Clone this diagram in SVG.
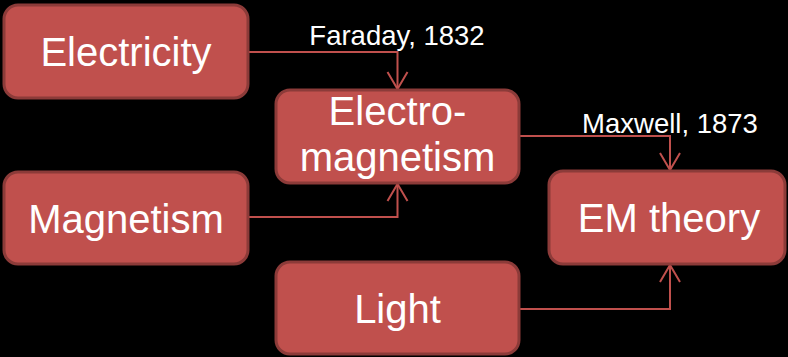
<svg xmlns="http://www.w3.org/2000/svg" width="788" height="357" viewBox="0 0 788 357">
<defs>
<style>
.box{fill:#c0504d;stroke:#8c3b39;stroke-width:3}
.t{font-family:"Liberation Sans",Arial,sans-serif;font-size:40px;fill:#ffffff;text-anchor:middle}
.lbl{font-family:"Liberation Sans",Arial,sans-serif;font-size:27.5px;fill:#ffffff;text-anchor:middle}
.c{fill:none;stroke:#c0504d;stroke-width:2}
</style>
<marker id="ah" viewBox="0 0 20 24" refX="18" refY="12" markerWidth="20" markerHeight="24" markerUnits="userSpaceOnUse" orient="auto">
<path d="M1,2 L18,12 L1,22" fill="none" stroke="#c0504d" stroke-width="2"/>
</marker>
</defs>
<rect x="0" y="0" width="788" height="357" fill="#000000"/>
<g id="connectors">
<path class="c" d="M248,52 H397.5 V89" marker-end="url(#ah)"/>
<path class="c" d="M248,217 H397.5 V184" marker-end="url(#ah)"/>
<path class="c" d="M519,136 H670 V170" marker-end="url(#ah)"/>
<path class="c" d="M519,309 H670 V265" marker-end="url(#ah)"/>
</g>
<g id="labels">
<text class="lbl" x="397" y="45">Faraday, 1832</text>
<text class="lbl" x="670" y="133">Maxwell, 1873</text>
</g>
<g id="electricity">
<rect class="box" x="4" y="5" width="244" height="93" rx="14"/>
<text class="t" x="126" y="66">Electricity</text>
</g>
<g id="magnetism">
<rect class="box" x="4" y="172" width="244" height="92" rx="14"/>
<text class="t" x="126" y="233">Magnetism</text>
</g>
<g id="electromagnetism">
<rect class="box" x="276" y="90" width="243" height="93" rx="14"/>
<text class="t" x="397.5" y="125">Electro-</text>
<text class="t" x="397.5" y="171">magnetism</text>
</g>
<g id="light">
<rect class="box" x="276" y="262" width="243" height="92" rx="14"/>
<text class="t" x="397.5" y="323">Light</text>
</g>
<g id="emtheory">
<rect class="box" x="549" y="171" width="236" height="93" rx="14"/>
<text class="t" x="669" y="232">EM theory</text>
</g>
</svg>
